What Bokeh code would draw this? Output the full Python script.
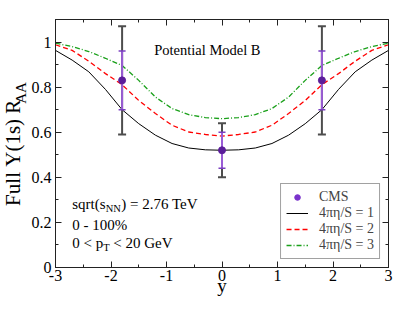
import math
from bokeh.plotting import figure
from bokeh.layouts import row
from bokeh.models import (Range1d, FixedTicker, LinearAxis, Legend, LegendItem,
                          Label, CustomJSTickFormatter)
from bokeh.embed import file_html
from bokeh.resources import INLINE

# ---------------- data ----------------
rapidity = [-3.0, -2.7, -2.4, -2.1, -1.8, -1.5, -1.2, -0.9, -0.6, -0.3, 0.0,
            0.3, 0.6, 0.9, 1.2, 1.5, 1.8, 2.1, 2.4, 2.7, 3.0]
raa_eta1 = [0.963, 0.920, 0.868, 0.790, 0.700, 0.638, 0.587, 0.550, 0.530, 0.522, 0.520,
            0.522, 0.530, 0.550, 0.587, 0.638, 0.700, 0.790, 0.868, 0.920, 0.963]
raa_eta2 = [0.988, 0.963, 0.915, 0.860, 0.811, 0.741, 0.683, 0.631, 0.601, 0.590, 0.583,
            0.590, 0.601, 0.631, 0.683, 0.741, 0.811, 0.860, 0.915, 0.963, 0.988]
raa_eta3 = [0.995, 0.980, 0.958, 0.928, 0.896, 0.830, 0.756, 0.705, 0.678, 0.665, 0.660,
            0.665, 0.678, 0.705, 0.756, 0.830, 0.896, 0.928, 0.958, 0.980, 0.995]

cms_y = [-1.8, 0.0, 1.8]
cms_raa = [0.83, 0.52, 0.83]
cms_stat_lo = [0.70, 0.44, 0.70]
cms_stat_hi = [0.96, 0.60, 0.96]
cms_sys_lo = [0.59, 0.40, 0.59]
cms_sys_hi = [1.07, 0.64, 1.07]

x_major = [-3, -2, -1, 0, 1, 2, 3]
x_minor = [-2.5, -1.5, -0.5, 0.5, 1.5, 2.5]
y_major = [0, 0.2, 0.4, 0.6, 0.8, 1.0]
y_minor = [0.1, 0.3, 0.5, 0.7, 0.9, 1.1]
x_tick_text = {-3: "-3", -2: "-2", -1: "-1", 0: "0", 1: "1", 2: "2", 3: "3"}
y_tick_text = {0: "0", 1: "1"}

SERIF = "Liberation Serif"
FIG_H = 307
YLAB_W = 28

p = figure(frame_width=333, frame_height=248,
           min_border_left=25, min_border_top=19, min_border_right=13, min_border_bottom=40,
           x_range=Range1d(-3, 3), y_range=Range1d(0, 1.1),
           output_backend="svg", toolbar_location=None)
p.xgrid.visible = False
p.ygrid.visible = False
p.outline_line_color = "#222222"
p.background_fill_color = "white"
p.border_fill_color = "white"

def style_axis(ax, major, minor, show_labels):
    ax.ticker = FixedTicker(ticks=major, minor_ticks=minor)
    ax.major_tick_in = 6
    ax.major_tick_out = 0
    ax.minor_tick_in = 3
    ax.minor_tick_out = 0
    ax.axis_line_color = "#222222"
    ax.major_tick_line_color = "#222222"
    ax.minor_tick_line_color = "#222222"
    ax.major_label_text_font = SERIF
    ax.major_label_text_font_size = "16px"
    ax.major_label_text_color = "black"
    if not show_labels:
        ax.formatter = CustomJSTickFormatter(code="return ''")
        ax.major_label_standoff = 0

style_axis(p.xaxis[0], x_major, x_minor, True)
style_axis(p.yaxis[0], y_major, y_minor, True)
p.xaxis[0].major_label_standoff = 2
p.xaxis[0].major_label_overrides = x_tick_text
p.xaxis[0].axis_label = "y"
p.xaxis[0].axis_label_text_font = SERIF
p.xaxis[0].axis_label_text_font_size = "19px"
p.xaxis[0].axis_label_text_font_style = "normal"
p.xaxis[0].axis_label_text_color = "black"
p.xaxis[0].axis_label_standoff = -9
p.yaxis[0].major_label_standoff = 4
p.yaxis[0].major_label_overrides = y_tick_text

top = LinearAxis()
style_axis(top, x_major, x_minor, False)
p.add_layout(top, "above")
right = LinearAxis()
style_axis(right, y_major, y_minor, False)
p.add_layout(right, "right")

# ---------------- curves ----------------
l1 = p.line(rapidity, raa_eta1, line_color="black", line_width=1)
l2 = p.line(rapidity, raa_eta2, line_color="#ff0000", line_width=1.3, line_dash="5 3")
l3 = p.line(rapidity, raa_eta3, line_color="#1aa01a", line_width=1.3, line_dash="5 2 1 2")

# ---------------- CMS points ----------------
gray = "#4d4d4d"
purple_bar = "#9a5cd6"
purple_pt = "#5b1e9a"
legend_dot = p.scatter(cms_y, cms_raa, marker="circle", size=5,
                       fill_color="#7a33cc", line_color="#7a33cc")
p.segment(x0=cms_y, y0=cms_sys_lo, x1=cms_y, y1=cms_sys_hi, line_color=gray, line_width=2)
p.scatter(cms_y, cms_sys_lo, marker="dash", size=8, line_color=gray, line_width=2)
p.scatter(cms_y, cms_sys_hi, marker="dash", size=8, line_color=gray, line_width=2)
p.segment(x0=cms_y, y0=cms_stat_lo, x1=cms_y, y1=cms_stat_hi, line_color=purple_bar, line_width=2)
p.scatter(cms_y, cms_stat_lo, marker="dash", size=7, line_color="#7a3fc0", line_width=1.5)
p.scatter(cms_y, cms_stat_hi, marker="dash", size=7, line_color="#7a3fc0", line_width=1.5)
pt = p.scatter(cms_y, cms_raa, marker="circle", size=7, fill_color=purple_pt, line_color=purple_pt)

# ---------------- legend ----------------
legend = Legend(items=[
    LegendItem(label="CMS", renderers=[legend_dot]),
    LegendItem(label="4πη/S = 1", renderers=[l1]),
    LegendItem(label="4πη/S = 2", renderers=[l2]),
    LegendItem(label="4πη/S = 3", renderers=[l3]),
], location="bottom_right")
legend.label_text_font = SERIF
legend.label_text_font_size = "14px"
legend.glyph_width = 22
legend.glyph_height = 14
legend.label_height = 14
legend.label_standoff = 11
legend.padding = 5
legend.spacing = 0
legend.margin = 8
legend.border_line_color = "#444444"
legend.border_line_width = 1
legend.background_fill_alpha = 1
p.add_layout(legend)

# ---------------- texts in the frame ----------------
def px2x(px):
    return (px - 219.8) / 55.5

def py2y(py):
    return (267.5 - py) / 225.9

def add_text(fig, x, y, txt, size, align="left", baseline="middle", angle=0.0):
    fig.add_layout(Label(x=x, y=y, text=txt, text_font=SERIF, text_font_size=size,
                         text_align=align, text_baseline=baseline, angle=angle,
                         text_color="black"))

add_text(p, px2x(152), py2y(50), "Potential Model B", "14.5px")

add_text(p, px2x(70), py2y(204), "sqrt(s", "15px")
add_text(p, px2x(103.5), py2y(208.5), "NN", "10.5px")
add_text(p, px2x(119), py2y(204), ") = 2.76 TeV", "15px")
add_text(p, px2x(70), py2y(224.5), "0 - 100%", "15px")
add_text(p, px2x(70), py2y(243), "0 < p", "15px")
add_text(p, px2x(101), py2y(247.5), "T", "10.5px")
add_text(p, px2x(111), py2y(243), "< 20 GeV", "15px")

# ---------------- y-axis title (separate narrow panel) ----------------
ylab = figure(width=YLAB_W, height=FIG_H, x_range=Range1d(0, YLAB_W), y_range=Range1d(0, FIG_H),
              x_axis_type=None, y_axis_type=None, min_border=0,
              output_backend="svg", toolbar_location=None)
ylab.xgrid.visible = False
ylab.ygrid.visible = False
ylab.outline_line_color = None
ylab.border_fill_color = "white"
add_text(ylab, 12.5, FIG_H - 165, "Full Υ(1s) R", "21px", align="center",
         baseline="middle", angle=math.pi / 2)
add_text(ylab, 20, FIG_H - 91, "AA", "15px", align="center",
         baseline="middle", angle=math.pi / 2)

layout = row(ylab, p, spacing=0)
open("out.html", "w").write(file_html(layout, INLINE))
